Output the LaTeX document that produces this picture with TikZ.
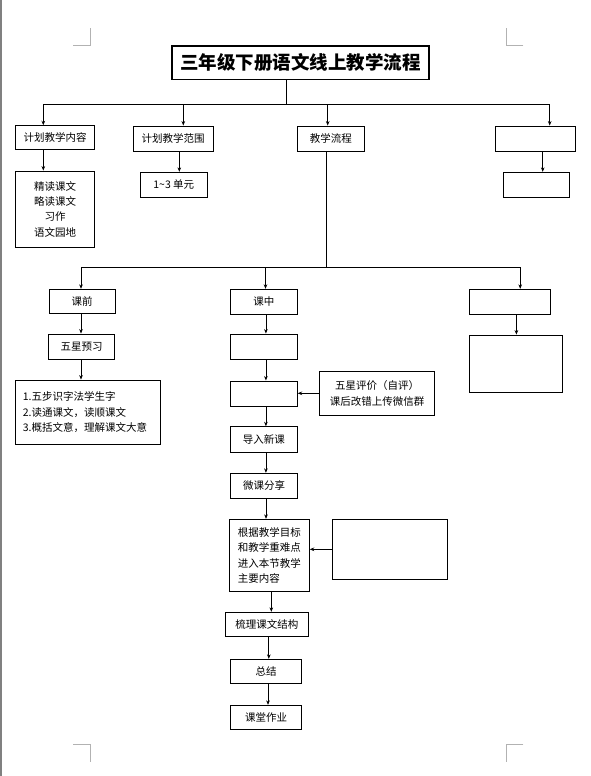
\documentclass[tikz,border=0pt]{standalone}
\usepackage{fontspec}
\setmainfont{Noto Sans CJK SC}
\usetikzlibrary{arrows.meta}
\tikzset {>={Stealth[length=4.5pt,width=3.6pt]}}
\tikzset{
  box/.style={draw,line width=.9pt,inner sep=0pt,font=\fontsize{10.5}{15.4}\selectfont},
  cropmark/.style={gray!60,line width=.6pt}
}

\begin{document}
\begin{tikzpicture}[x=1pt,y=-1pt,line width=.7pt]
\useasboundingbox (0,0) rectangle (591,776);
\fill[white] (0,0) rectangle (591,776);
\draw[gray,line width=2pt] (1,0) -- (1,776);

% page corner marks
\draw[cropmark] (73.4,45) -- (90.4,45) -- (90.4,28);
\draw[cropmark] (523.3,45) -- (506.7,45) -- (506.7,28);
\draw[cropmark] (73.4,744) -- (90.4,744) -- (90.4,762);
\draw[cropmark] (523.3,744) -- (506.7,744) -- (506.7,762);

\node[box,line width=1.2pt,minimum width=257pt,minimum height=33.3pt,
  font=\fontsize{18.5}{22}\bfseries] (title) at (300.5,62.7) {三年级下册语文线上教学流程};

% first level
\node[box,minimum width=79.4pt,minimum height=23.6pt] (plan) at (55,137.5) {计划教学内容};
\node[box,minimum width=80pt,minimum height=25pt] (range) at (173,138.5) {计划教学范围};
\node[box,minimum width=67pt,minimum height=25pt] (flow) at (330.8,138.5) {教学流程};
\node[box,minimum width=80pt,minimum height=25pt] (topR) at (535.3,138.5) {};

\node[box,minimum width=79.4pt,minimum height=76.3pt,align=center] (content) at (55,209.2)
  {精读课文\\略读课文\\习作\\语文园地};
\node[box,minimum width=67pt,minimum height=25pt] (unit) at (173.8,184.8) {1\textasciitilde3 单元};
\node[box,minimum width=66pt,minimum height=25pt] (topRsub) at (536.3,184.8) {};

\coordinate (T) at (286.7,104);
\coordinate (B1) at (43.3,104);
\coordinate (B2) at (183.3,104);
\coordinate (B3) at (327.7,104);
\coordinate (B4) at (549.7,104);
\coordinate (U) at (179.3,0);
\coordinate (V) at (542.7,0);

\draw (title.south -| T) -- (T);
\draw (B1) -- (B4);
\foreach \b/\n in {B1/plan,B2/range,B3/flow,B4/topR}
  \draw[->] (\b) -- (\b |- \n.north);
\draw[->] (plan.south -| B1) -- (content.north -| B1);
\draw[->] (range.south -| U) -- (unit.north -| U);
\draw[->] (topR.south -| V) -- (topRsub.north -| V);

% second level
\node[box,minimum width=66pt,minimum height=24pt] (before) at (82,301.3) {课前};
\node[box,minimum width=66.7pt,minimum height=24.7pt] (during) at (263.9,301.6) {课中};
\node[box,minimum width=81pt,minimum height=25pt] (afterR) at (509.5,301.8) {};

\coordinate (C0) at (326.7,267.3);
\coordinate (C1) at (81,267.3);
\coordinate (C2) at (265.5,267.3);
\coordinate (C3) at (520.2,267.3);
\coordinate (W) at (516.4,0);

\draw (flow.south -| C0) -- (C0);
\draw (C1) -- (C3);
\foreach \c/\n in {C1/before,C2/during,C3/afterR}
  \draw[->] (\c) -- (\c |- \n.north);

\node[box,minimum width=66.7pt,minimum height=25pt] (preview) at (81.5,346.5) {五星预习};
\node[box,minimum width=145pt,minimum height=64.3pt,align=left,text width=131pt] (list) at (88.3,412.2)
  {1.五步识字法学生字\\2.读通课文，读顺课文\\3.概括文意，理解课文大意\\[4pt]};
\node[box,minimum width=93pt,minimum height=57.3pt] (afterSub) at (515.5,363.7) {};

\draw[->] (before.south -| C1) -- (preview.north -| C1);
\draw[->] (preview.south -| C1) -- (list.north -| C1);
\draw[->] (afterR.south -| W) -- (afterSub.north -| W);

% middle column
\node[box,minimum width=66.7pt,minimum height=25pt] (blankA) at (263.9,346.5) {};
\node[box,minimum width=66.7pt,minimum height=25.7pt] (blankB) at (263.9,393.8) {};
\node[box,minimum width=114.3pt,minimum height=43.3pt,align=center] (eval) at (377,393.3)
  {五星评价（自评）\\课后改错上传微信群};
\node[box,minimum width=66.7pt,minimum height=25.6pt] (intro) at (263.9,439.5) {导入新课};
\node[box,minimum width=67.4pt,minimum height=25pt] (micro) at (264,485.8) {微课分享};
\node[box,minimum width=80pt,minimum height=72pt,align=left,text width=63pt] (main) at (269.3,555.3)
  {根据教学目标\\和教学重难点\\进入本节教学\\主要内容};
\node[box,minimum width=115pt,minimum height=60pt] (rightE) at (389.8,549.3) {};
\node[box,minimum width=83pt,minimum height=24pt] (struct) at (266.8,624.3) {梳理课文结构};
\node[box,minimum width=71.4pt,minimum height=24pt] (summary) at (266,671.3) {总结};
\node[box,minimum width=71.4pt,minimum height=24pt] (homework) at (266,717.3) {课堂作业};

\foreach \a/\b in {during/blankA,blankA/blankB,blankB/intro,intro/micro,
  micro/main,main/struct,struct/summary,summary/homework}
  \draw[->] ([xshift=2pt]\a.south) -- ([xshift=2pt]\a.south |- \b.north);
\draw[->] (eval.west) -- (eval.west -| blankB.east);
\draw[->] (rightE.west) -- (rightE.west -| main.east);
\end{tikzpicture}
\end{document}
